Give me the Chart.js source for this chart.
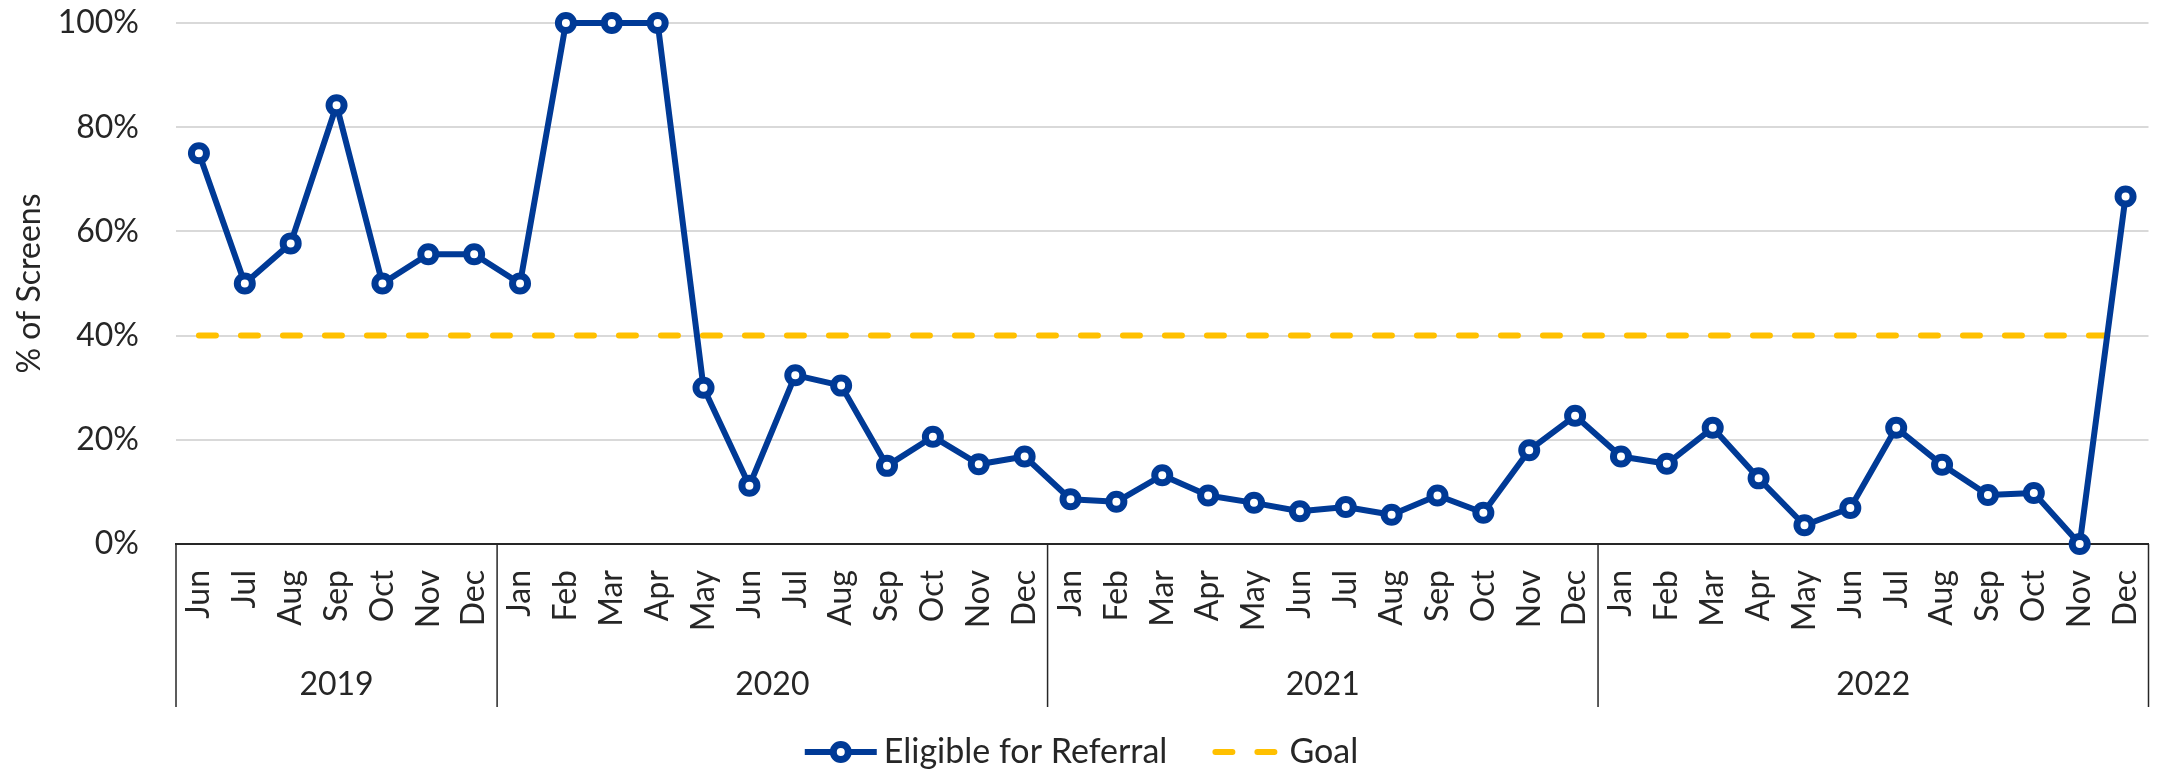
<!DOCTYPE html>
<html>
<head>
<meta charset="utf-8">
<script src="https://cdn.jsdelivr.net/npm/chart.js@4.4.1/dist/chart.umd.min.js"></script>
<style>
  html, body { margin: 0; padding: 0; background: #fff; }
  #wrap { width: 2163px; height: 770px; }
</style>
</head>
<body>
<div id="wrap"><canvas id="chart" width="2163" height="770"></canvas></div>
<script>
// data
const years = ["2019", "2020", "2021", "2022"];
const monthsByYear = [
  ["Jun", "Jul", "Aug", "Sep", "Oct", "Nov", "Dec"],
  ["Jan", "Feb", "Mar", "Apr", "May", "Jun", "Jul", "Aug", "Sep", "Oct", "Nov", "Dec"],
  ["Jan", "Feb", "Mar", "Apr", "May", "Jun", "Jul", "Aug", "Sep", "Oct", "Nov", "Dec"],
  ["Jan", "Feb", "Mar", "Apr", "May", "Jun", "Jul", "Aug", "Sep", "Oct", "Nov", "Dec"]
];
const months = monthsByYear.flat();

const eligible = [
  75, 50, 57.7, 84.2, 50, 55.6, 55.6,
  50, 100, 100, 100, 30, 11.2, 32.4, 30.4, 15.0, 20.6, 15.3, 16.8,
  8.6, 8.1, 13.2, 9.3, 7.9, 6.3, 7.1, 5.6, 9.3, 6.0, 18.0, 24.6,
  16.8, 15.4, 22.3, 12.6, 3.6, 6.9, 22.3, 15.2, 9.4, 9.8, 0, 66.7
];
const goal = [
  40, 40, 40, 40, 40, 40, 40,
  40, 40, 40, 40, 40, 40, 40, 40, 40, 40, 40, 40,
  40, 40, 40, 40, 40, 40, 40, 40, 40, 40, 40, 40,
  40, 40, 40, 40, 40, 40, 40, 40, 40, 40, 40, 40
];
const yTicks = [0, 20, 40, 60, 80, 100];
const seriesNames = ["Eligible for Referral", "Goal"];

const BLUE = "#003A96";
const GOLD = "#FFC000";
const TEXT = "#262626";
const FONT = "Lato";

Chart.defaults.font.family = FONT;
Chart.defaults.font.size = 32;
Chart.defaults.color = TEXT;

// year brackets under the month labels + legend
const extras = {
  id: "extras",
  afterDraw(chart) {
    const { ctx, chartArea } = chart;
    const x = chart.scales.x;
    const top = chartArea.bottom;
    const bottom = x.bottom;
    ctx.save();
    ctx.strokeStyle = TEXT;
    ctx.lineWidth = 1.5;
    ctx.fillStyle = TEXT;
    ctx.font = "32px " + FONT;
    ctx.textAlign = "center";
    ctx.textBaseline = "middle";

    let start = 0;
    let leftEdge = chartArea.left;
    ctx.beginPath();
    ctx.moveTo(leftEdge, top);
    ctx.lineTo(leftEdge, bottom);
    ctx.stroke();
    monthsByYear.forEach((m, k) => {
      const end = start + m.length;
      let rightEdge;
      if (end >= months.length) {
        rightEdge = chartArea.right;
      } else {
        rightEdge = (x.getPixelForValue(end - 1) + x.getPixelForValue(end)) / 2;
      }
      ctx.beginPath();
      ctx.moveTo(rightEdge, top);
      ctx.lineTo(rightEdge, bottom);
      ctx.stroke();
      ctx.fillText(years[k], (leftEdge + rightEdge) / 2, bottom - 22);
      leftEdge = rightEdge;
      start = end;
    });

    // legend
    const ly = 752;
    ctx.font = "34px " + FONT;
    const w1 = ctx.measureText(seriesNames[0]).width;
    const w2 = ctx.measureText(seriesNames[1]).width;
    const total = 72 + 7 + w1 + 45 + 65 + 12 + w2;
    let lx = chart.width / 2 - total / 2;
    ctx.textAlign = "left";

    ctx.strokeStyle = BLUE;
    ctx.lineWidth = 6;
    ctx.lineCap = "butt";
    ctx.beginPath();
    ctx.moveTo(lx, ly);
    ctx.lineTo(lx + 72, ly);
    ctx.stroke();
    ctx.beginPath();
    ctx.arc(lx + 36, ly, 7.5, 0, Math.PI * 2);
    ctx.fillStyle = "#fff";
    ctx.fill();
    ctx.lineWidth = 7;
    ctx.stroke();
    lx += 72 + 7;
    ctx.fillStyle = TEXT;
    ctx.fillText(seriesNames[0], lx, ly);
    lx += w1 + 45;

    ctx.strokeStyle = GOLD;
    ctx.lineWidth = 6;
    ctx.lineCap = "round";
    ctx.beginPath();
    ctx.moveTo(lx + 3, ly);
    ctx.lineTo(lx + 20, ly);
    ctx.moveTo(lx + 45, ly);
    ctx.lineTo(lx + 62, ly);
    ctx.stroke();
    lx += 65 + 12;
    ctx.fillText(seriesNames[1], lx, ly);
    ctx.restore();
  }
};

new Chart(document.getElementById("chart"), {
  type: "line",
  data: {
    labels: months,
    datasets: [
      {
        label: seriesNames[0],
        data: eligible,
        borderColor: BLUE,
        borderWidth: 6,
        borderJoinStyle: "round",
        pointRadius: 7.5,
        pointBorderWidth: 7,
        pointBorderColor: BLUE,
        pointBackgroundColor: "#fff",
        tension: 0,
        clip: false
      },
      {
        label: seriesNames[1],
        data: goal,
        borderColor: GOLD,
        borderWidth: 6,
        borderDash: [17, 25],
        borderCapStyle: "round",
        pointRadius: 0,
        tension: 0,
        clip: false
      }
    ]
  },
  options: {
    responsive: false,
    animation: false,
    events: [],
    devicePixelRatio: 1,
    layout: { padding: { top: 23, right: 11, bottom: 63, left: 0 } },
    plugins: {
      legend: { display: false },
      tooltip: { enabled: false }
    },
    scales: {
      x: {
        offset: true,
        grid: { display: false, drawTicks: false },
        border: { display: true, color: TEXT, width: 2 },
        ticks: {
          autoSkip: false,
          maxRotation: 90,
          minRotation: 90,
          padding: 26,
          color: TEXT,
          font: { size: 32 }
        },
        afterFit(scale) {
          scale.height = 163;
          scale.paddingLeft = 0;
          scale.paddingRight = 0;
          scale.paddingTop = 0;
          scale.paddingBottom = 0;
        }
      },
      y: {
        min: 0,
        max: 100,
        afterBuildTicks(scale) { scale.ticks = yTicks.map(v => ({ value: v })); },
        grid: { color: "#D9D9D9", lineWidth: 2, drawTicks: false },
        border: { display: false },
        ticks: {
          padding: 37,
          color: TEXT,
          font: { size: 32 },
          callback: v => v + "%"
        },
        title: {
          display: true,
          text: "% of Screens",
          color: TEXT,
          font: { size: 32 },
          padding: { top: 10, bottom: 0 }
        },
        afterFit(scale) {
          scale.width = 176;
          scale.paddingLeft = 0;
          scale.paddingRight = 0;
          scale.paddingTop = 0;
          scale.paddingBottom = 0;
        }
      }
    }
  },
  plugins: [extras]
});
</script>
</body>
</html>
